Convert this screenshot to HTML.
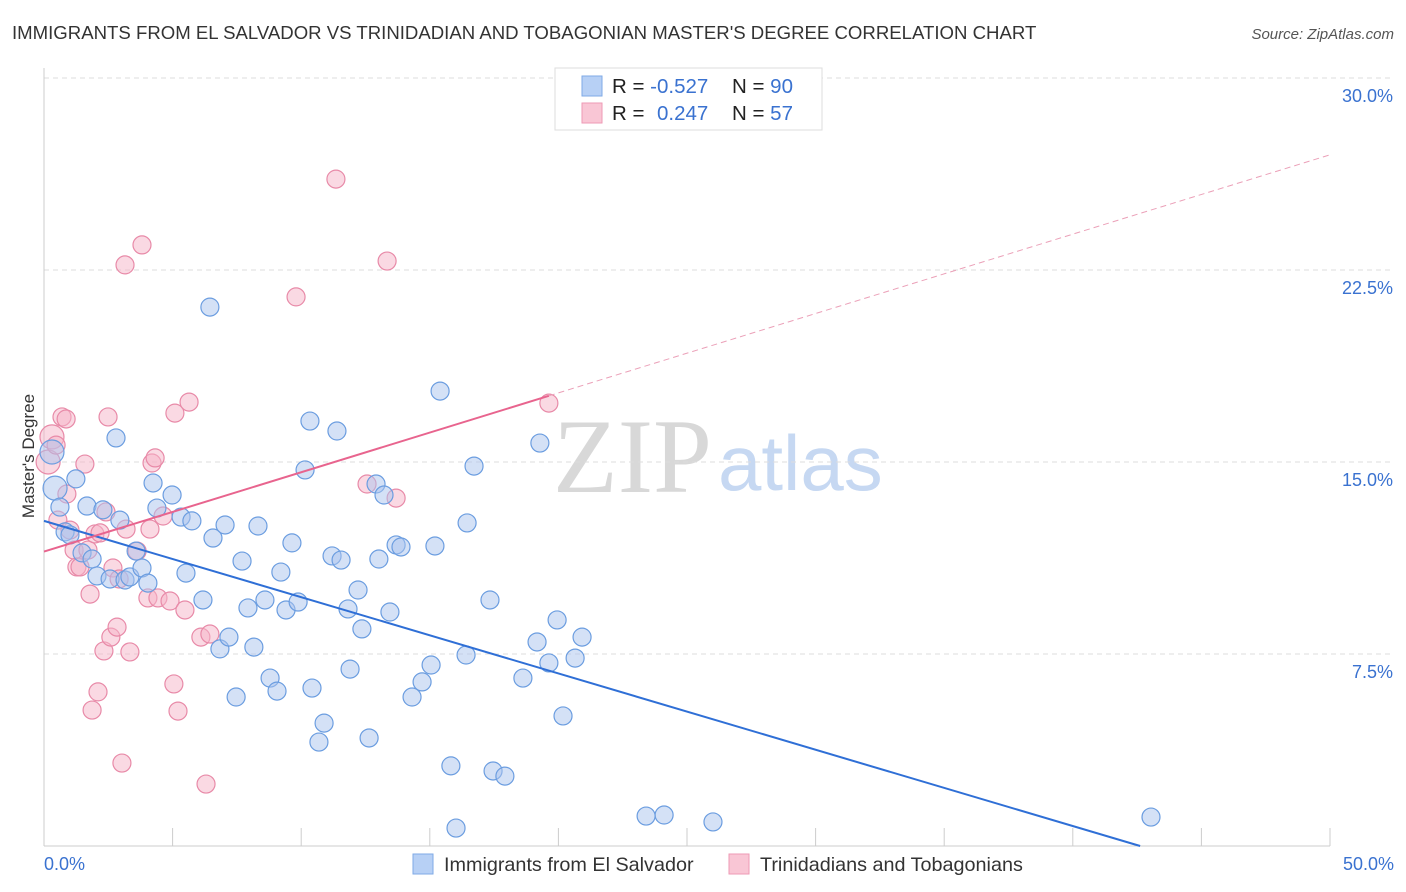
<!DOCTYPE html>
<html><head><meta charset="utf-8"><style>
body{margin:0;background:#fff;font-family:"Liberation Sans",sans-serif;}
#wrap{position:relative;width:1406px;height:892px;overflow:hidden;}
</style></head><body>
<div id="wrap">
<svg id="svg" width="1406" height="892" xmlns="http://www.w3.org/2000/svg">
<text x="12" y="39" font-size="18.6" fill="#333">IMMIGRANTS FROM EL SALVADOR VS TRINIDADIAN AND TOBAGONIAN MASTER'S DEGREE CORRELATION CHART</text>
<text x="1394" y="39" font-size="15" fill="#555" font-style="italic" text-anchor="end">Source: ZipAtlas.com</text>
<text x="34" y="456" font-size="17" fill="#333" text-anchor="middle" transform="rotate(-90 34 456)">Master's Degree</text>
<text x="553" y="492" font-size="106" fill="#d8d8d8" font-family="Liberation Serif,serif">ZIP</text>
<text x="718" y="490" font-size="78" fill="#c6d8f2">atlas</text>
<g id="grid"></g><g id="marks"></g>
<g>
<rect x="555" y="68" width="267" height="62" fill="#fff" stroke="#ddd"/>
<rect x="582" y="76" width="20" height="20" fill="#b7d0f5" stroke="#7faae6"/>
<rect x="582" y="103" width="20" height="20" fill="#f9c6d5" stroke="#ee9ab5"/>
<text x="612" y="93" font-size="20.5" fill="#222">R = <tspan fill="#3a72d0">-0.527</tspan><tspan x="732">N = </tspan><tspan fill="#3a72d0">90</tspan></text>
<text x="612" y="120" font-size="20.5" fill="#222">R = <tspan x="657" fill="#3a72d0">0.247</tspan><tspan x="732">N = </tspan><tspan fill="#3a72d0">57</tspan></text>
</g>
<g>
<rect x="413" y="854" width="20" height="20" fill="#b7d0f5" stroke="#7faae6"/>
<text x="444" y="871" font-size="19.8" fill="#333">Immigrants from El Salvador</text>
<rect x="729" y="854" width="20" height="20" fill="#f9c6d5" stroke="#ee9ab5"/>
<text x="760" y="871" font-size="19.8" fill="#333">Trinidadians and Tobagonians</text>
</g>
</svg></div>
<script>
const yTicks=[7.5,15,22.5,30];
const yTickLabels=["7.5%","15.0%","22.5%","30.0%"];
const xTickVals=[0,5,10,15,20,25,30,35,40,45,50];
const blueX=[0.31,0.43,0.62,0.82,1.01,1.24,1.48,1.67,1.87,2.06,2.29,2.57,2.80,2.95,3.15,3.34,3.58,3.81,4.04,4.24,4.39,4.98,5.33,5.52,5.75,6.18,6.45,6.57,6.84,7.04,7.19,7.47,7.70,7.93,8.16,8.32,8.59,8.79,9.06,9.21,9.41,9.64,9.88,10.15,10.34,10.42,10.69,10.89,11.20,11.39,11.55,11.82,11.90,12.21,12.36,12.64,12.91,13.02,13.22,13.45,13.69,13.88,14.31,14.70,15.05,15.20,15.40,15.82,16.02,16.41,16.45,16.72,17.34,17.46,17.92,18.62,19.17,19.28,19.63,19.95,20.18,20.65,20.92,23.41,24.11,26.01,43.04];
const blueY=[15.39,13.98,13.24,12.27,12.15,14.34,11.45,13.28,11.21,10.55,13.13,10.43,15.94,12.73,10.39,10.51,11.52,10.86,10.27,14.18,13.20,13.71,12.85,10.66,12.70,9.61,21.05,12.03,7.70,12.54,8.16,5.82,11.13,9.30,7.77,12.50,9.61,6.56,6.05,10.70,9.22,11.84,9.53,14.69,16.60,6.17,4.06,4.80,11.33,16.21,11.17,9.26,6.91,10.00,8.48,4.22,14.14,11.21,13.71,9.14,11.76,11.68,5.82,6.41,7.07,11.72,17.77,3.13,0.70,7.46,12.62,14.84,9.61,2.93,2.73,6.56,7.97,15.74,7.15,8.83,5.08,7.34,8.16,1.17,1.21,0.94,1.13];
const pinkX=[0.16,0.31,0.47,0.54,0.70,0.86,0.89,1.01,1.17,1.28,1.40,1.59,1.71,1.79,1.87,1.98,2.10,2.18,2.33,2.41,2.49,2.60,2.68,2.84,2.92,3.03,3.15,3.19,3.34,3.62,3.81,4.04,4.12,4.20,4.32,4.43,4.63,4.90,5.05,5.09,5.21,5.48,5.64,6.10,6.30,6.45,9.80,11.35,12.56,13.34,13.69,19.63];
const pinkY=[15.00,15.98,15.66,12.73,16.76,16.68,13.75,12.34,11.56,10.90,10.90,14.92,11.56,9.84,5.31,12.19,6.02,12.23,7.62,13.05,16.76,8.16,10.86,8.55,10.43,3.24,22.70,12.38,7.58,11.52,23.48,9.69,12.38,14.96,15.16,9.69,12.89,9.57,6.33,16.91,5.27,9.22,17.34,8.16,2.42,8.28,21.45,26.05,14.14,22.85,13.59,17.30];
const blueTrend=[12.7,-0.298];
const pinkTrend=[11.5,0.31];
const NS="http://www.w3.org/2000/svg";
const X=v=>44+v/50*1286, Y=v=>846-v/7.5*192;
function mk(t,a,p){const e=document.createElementNS(NS,t);for(const k in a)e.setAttribute(k,a[k]);p.appendChild(e);return e;}
const grid=document.getElementById('grid'),marks=document.getElementById('marks');
yTicks.forEach((t,i)=>{
 const l=mk('line',{x1:44,x2:1394,y1:Y(t),y2:Y(t),stroke:'#ddd','stroke-dasharray':'5,4'},grid);
 
 
 const tx=mk('text',{x:1393,y:Y(t)+24,'font-size':18,fill:'#3a72d0','text-anchor':'end'},grid);
 tx.textContent=yTickLabels[i];
 
 
});
const ax=mk('line',{x1:44,x2:1330,y1:846,y2:846,stroke:'#ccc'},grid);


const ay=mk('line',{x1:44,x2:44,y1:68,y2:846,stroke:'#ccc'},grid);


xTickVals.forEach(v=>{
 const l=mk('line',{x1:X(v),x2:X(v),y1:828,y2:846,stroke:'#ccc'},grid);
 
 
});
[[0,'0.0%','start',44],[50,'50.0%','end',1394]].forEach(d=>{
 const t=mk('text',{x:d[3],y:870,'font-size':18,fill:'#3a72d0','text-anchor':d[2]},grid);
 t.textContent=d[1];
 
 
});
function pts(xs,ys,fill,stroke,name){
 xs.forEach((x,i)=>{
  const r=i<2&&x<1?12:9;
  const c=mk('circle',{cx:X(x),cy:Y(ys[i]),r:r,fill:fill,'fill-opacity':0.5,stroke:stroke,'stroke-width':1.2},marks);
  
  
 });
}
pts(pinkX,pinkY,'#f5b3c8','#e88aa8','pink-point');
pts(blueX,blueY,'#a9c4ee','#6b9de0','blue-point');
const bx1=Math.min(50,-blueTrend[0]/blueTrend[1]);
const bl=mk('line',{x1:X(0),y1:Y(blueTrend[0]),x2:X(bx1),y2:Y(blueTrend[0]+blueTrend[1]*bx1),stroke:'#2f6fd6','stroke-width':2},marks);


const pmax=Math.max(...pinkX);
const pl=mk('line',{x1:X(0),y1:Y(pinkTrend[0]),x2:X(pmax),y2:Y(pinkTrend[0]+pinkTrend[1]*pmax),stroke:'#e8648e','stroke-width':2},marks);


const pd=mk('line',{x1:X(pmax),y1:Y(pinkTrend[0]+pinkTrend[1]*pmax),x2:X(50),y2:Y(pinkTrend[0]+pinkTrend[1]*50),stroke:'#eba0b8','stroke-width':1,'stroke-dasharray':'6,4'},marks);


</script>
</body></html>
